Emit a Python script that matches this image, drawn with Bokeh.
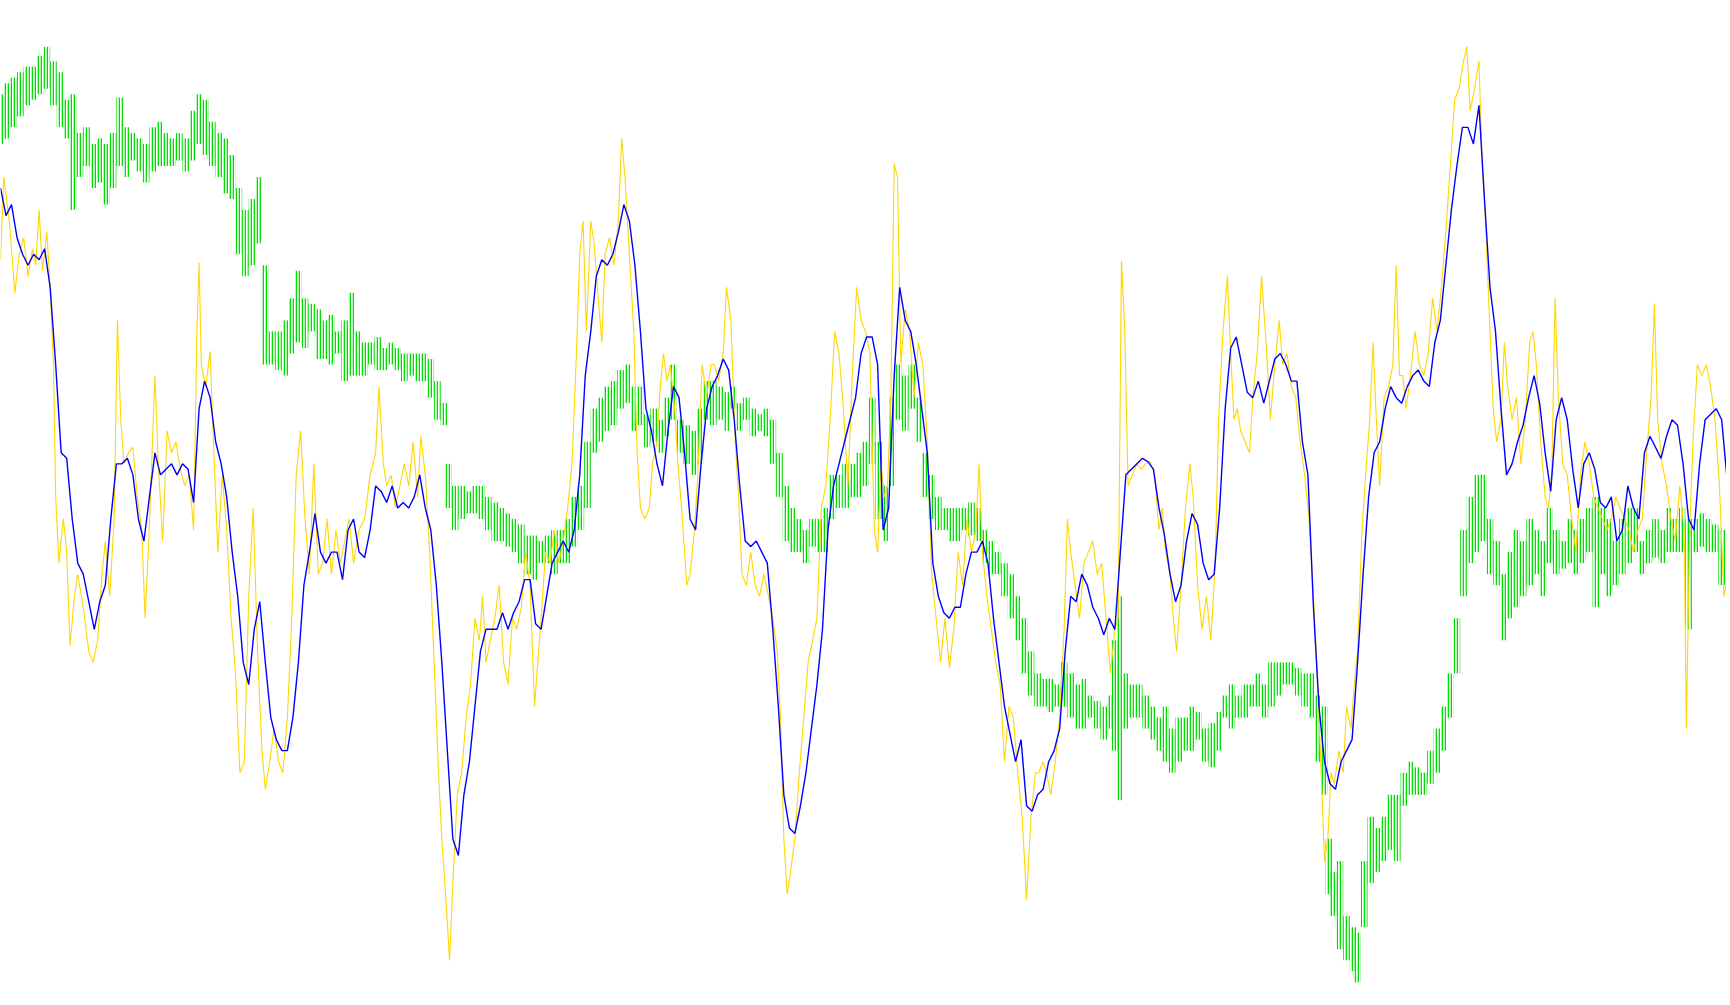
from bokeh.plotting import figure
from bokeh.models import Range1d
from bokeh.embed import file_html
from bokeh.resources import INLINE

# Values (arbitrary vertical unit, larger = lower on chart)
green_x = [0,6,12,18,24,30,36,42,48,54,60,66,72,78,84,90,96,102,108,114,120,126,132,138,144,150,156,162,168,174,180,186,192,198,204,210,216,222,228,234,240,246,252,258,264,270,276,282,288,294,300,306,312,318,324,330,336,342,348,354,360,366,372,378,384,390,396,402,406,412,418,424,430,436,442,448,454,460,466,472,478,484,490,496,502,508,514,520,526,532,538,544,550,556,562,568,574,580,586,592,598,604,610,616,622,628,634,640,646,652,658,664,670,676,682,688,694,700,706,712,718,724,730,736,742,748,754,760,766,772,778,784,790,796,802,808,814,820,826,832,838,844,850,856,862,868,874,880,886,892,898,904,910,916,922,928,934,940,946,952,958,964,970,976,982,988,994,1000,1006,1010,1014,1020,1026,1032,1038,1044,1050,1056,1062,1068,1074,1080,1086,1092,1098,1104,1110,1116,1122,1128,1134,1140,1146,1152,1158,1164,1170,1176,1182,1188,1194,1200,1204,1208,1214,1220,1226,1230,1236,1242,1248,1254,1260,1266,1272,1278,1284,1290,1296,1302,1308,1314,1320,1326,1332,1338,1344,1350,1356,1362,1368,1374,1380,1386,1392,1398,1404,1410,1416,1422,1428,1434,1440,1446,1452,1458,1464,1470,1476,1482,1488,1494,1500,1506,1512,1518,1524,1530,1536,1542,1548,1554,1560,1566]
green_top = [85,75,70,65,60,60,50,42,55,65,90,85,120,115,130,125,130,120,88,115,120,125,130,115,110,120,125,120,125,100,85,90,110,120,125,140,170,190,180,160,240,300,300,290,270,245,270,275,280,290,285,300,290,265,300,310,310,305,315,310,315,320,320,320,320,325,345,365,420,440,440,445,440,440,450,455,460,465,470,475,485,485,490,485,480,480,470,450,440,400,370,360,350,345,335,330,350,350,375,370,380,360,330,380,385,390,370,345,345,350,355,350,365,360,370,375,370,380,410,440,460,470,480,470,470,460,430,430,420,420,410,400,360,400,440,360,330,340,330,360,410,430,450,460,460,460,460,455,460,480,490,500,510,520,540,560,590,610,615,615,620,600,610,620,615,630,635,640,630,580,540,610,620,620,630,640,650,640,660,650,650,640,645,660,655,645,630,620,630,620,620,610,620,600,600,600,600,605,610,610,630,640,760,790,780,830,840,845,780,740,750,740,720,720,700,690,695,700,680,660,640,610,560,480,450,430,430,470,490,520,500,480,490,470,480,490,460,480,490,470,480,470,460,450,460,470,490,470,460,460,490,480,470,480,460,470,460,470,470,465,470,475,480,500]
green_bottom = [130,125,115,105,95,90,85,80,95,115,125,190,160,150,170,165,185,170,150,160,145,155,165,155,150,150,150,145,155,145,130,140,150,160,175,180,230,250,240,220,330,330,335,340,320,310,315,300,325,325,330,320,345,340,340,340,330,335,335,330,335,345,340,345,345,360,380,385,460,480,470,465,465,470,480,490,490,495,500,510,520,525,510,510,520,510,510,495,480,460,410,400,390,385,370,365,390,385,405,400,410,395,380,410,420,430,420,380,385,380,390,370,390,380,395,390,395,420,450,490,500,500,510,495,500,500,470,460,460,450,450,440,420,470,490,440,380,390,370,400,450,470,480,480,490,490,480,485,490,510,520,520,540,560,580,610,630,640,640,645,640,640,650,660,660,650,660,670,660,680,725,660,650,650,660,670,680,690,700,690,680,680,670,690,695,680,650,660,650,650,640,640,650,640,630,620,620,630,640,650,690,720,810,830,860,870,880,890,840,800,790,780,770,780,730,720,720,720,710,700,680,650,610,540,510,500,490,520,530,580,560,550,540,530,520,540,510,520,515,510,520,510,500,550,520,540,530,520,510,500,520,510,505,510,500,500,500,570,500,495,500,500,530,550]

yellow_x = [0,3,8,13,17,21,25,29,32,35,38,42,45,48,50,53,57,60,63,67,70,75,80,84,88,92,95,99,103,106,109,112,116,120,124,128,131,134,137,140,143,147,151,155,159,163,167,171,175,178,180,182,186,190,193,197,201,205,209,213,217,221,225,229,233,237,240,244,248,252,256,260,264,268,272,276,280,284,288,292,296,300,304,308,312,316,320,325,330,335,340,343,347,350,354,358,362,366,370,374,378,381,385,389,393,397,400,404,407,410,414,418,422,426,430,434,437,440,444,448,452,456,460,464,468,472,476,480,484,487,490,494,498,502,506,510,514,518,522,525,528,531,535,538,541,545,548,552,556,560,563,566,570,574,577,580,584,588,591,595,598,601,604,607,611,614,618,622,625,629,632,636,640,644,647,651,655,658,662,666,669,672,676,680,684,688,692,696,700,704,707,710,713,716,720,724,728,732,736,740,744,748,752,756,760,764,768,772,776,780,784,788,792,795,798,801,804,807,810,813,816,820,824,828,832,836,840,844,848,852,856,860,864,868,872,876,880,884,887,890,894,898,902,906,910,914,918,922,926,930,934,938,941,945,948,952,956,960,964,967,970,974,978,982,986,990,994,998,1002,1006,1010,1013,1016,1019,1022,1026,1030,1034,1038,1042,1046,1050,1053,1056,1060,1063,1066,1070,1074,1078,1081,1085,1089,1093,1097,1101,1104,1108,1112,1115,1118,1121,1124,1128,1132,1135,1139,1143,1147,1151,1155,1159,1162,1166,1170,1174,1178,1182,1186,1190,1194,1197,1200,1203,1206,1209,1213,1217,1220,1224,1227,1230,1234,1238,1241,1244,1247,1250,1254,1258,1262,1265,1268,1271,1274,1278,1282,1286,1290,1294,1298,1302,1306,1310,1314,1318,1322,1326,1329,1332,1336,1340,1343,1346,1350,1353,1356,1360,1363,1366,1370,1374,1378,1382,1386,1389,1392,1396,1400,1403,1406,1409,1412,1416,1420,1424,1428,1432,1436,1440,1444,1448,1452,1456,1460,1464,1468,1472,1476,1480,1484,1488,1492,1496,1499,1502,1506,1510,1514,1518,1522,1526,1528,1531,1534,1538,1542,1546,1550,1554,1558,1562,1566]
yellow_y = [235,160,200,265,230,215,250,225,240,190,245,210,260,330,450,510,470,500,585,540,520,550,590,600,580,520,490,540,470,290,380,420,410,405,450,480,560,500,420,340,420,490,390,410,400,425,440,430,480,300,238,330,350,318,400,500,430,480,560,610,700,690,540,460,590,680,715,690,660,690,700,650,560,430,390,470,520,420,520,510,470,520,480,510,490,470,510,480,470,430,410,350,420,440,430,460,440,420,440,400,450,395,430,500,600,700,760,820,870,800,720,700,650,620,560,580,540,600,580,560,530,600,620,560,570,550,500,530,640,600,560,500,510,480,510,490,460,420,320,230,200,300,200,220,260,310,230,215,240,200,125,160,230,300,410,460,470,460,420,400,350,320,345,330,370,420,470,530,520,480,430,330,360,330,330,345,320,260,290,400,450,520,530,500,530,540,520,540,560,590,650,760,810,790,760,700,650,600,580,560,460,440,380,300,320,370,440,340,260,290,300,320,480,500,420,450,440,360,148,160,330,280,300,360,310,330,400,520,560,600,560,605,570,500,530,470,500,480,420,500,540,570,600,620,690,640,650,700,740,815,740,700,700,690,700,720,690,650,570,470,500,530,560,510,500,490,520,510,560,610,570,560,236,300,440,430,420,425,420,418,430,480,460,500,520,560,590,530,460,420,450,530,570,540,580,510,380,300,250,320,380,370,390,400,410,360,320,250,310,380,330,290,330,320,350,360,400,430,470,540,620,700,780,760,700,710,680,700,640,660,620,590,480,420,380,310,380,440,360,350,330,240,340,340,370,340,300,330,340,320,270,300,260,210,150,90,80,55,42,100,80,55,150,200,300,370,400,380,310,350,380,360,420,380,310,300,330,400,450,460,430,270,360,420,430,470,500,430,400,420,450,460,470,480,470,450,460,470,480,500,480,470,410,360,275,380,420,440,470,490,440,480,660,480,400,330,340,330,350,380,440,540,520]

blue_x = list(range(0, 1566, 5))
blue_y = [170,195,185,215,230,240,230,235,225,260,330,410,415,470,510,520,545,570,545,530,470,420,420,415,430,470,490,450,410,430,425,420,430,420,425,455,370,345,360,400,420,450,500,540,600,620,570,545,600,650,670,680,680,650,600,530,500,465,500,510,500,500,525,480,470,500,505,480,440,445,455,440,460,455,460,450,430,460,480,530,600,680,760,775,720,690,640,590,570,570,570,555,570,555,545,525,525,565,570,540,510,500,490,500,480,430,340,300,250,235,240,230,210,185,200,240,300,370,390,420,440,390,350,360,410,470,480,420,370,350,340,325,335,380,440,490,495,490,500,510,570,640,720,750,755,730,700,660,620,570,480,440,420,400,380,360,320,305,305,330,480,460,340,260,290,300,330,370,410,510,540,555,560,550,550,520,500,500,490,510,560,600,640,665,690,670,730,735,720,715,690,680,660,590,540,545,520,530,550,560,575,560,570,500,430,425,420,415,418,425,460,485,520,545,530,490,465,475,510,525,520,460,370,315,305,330,355,360,345,365,345,325,320,330,345,345,400,430,550,640,690,710,715,690,680,670,600,520,450,410,400,370,350,360,365,350,340,335,345,350,310,290,240,190,150,115,115,130,95,180,260,300,370,430,420,400,385,360,340,365,410,445,380,360,380,425,460,420,410,425,455,460,450,490,480,440,460,470,410,395,405,415,395,380,385,420,470,480,420,380,375,370,380,435]

W, H = 1726, 1000
KX = 1568 / 1730
KY = 911 / 1005

p = figure(width=W, height=H, output_backend="svg", toolbar_location=None,
           x_range=Range1d(0, W * KX),
           y_range=Range1d(H * KY, 0),
           min_border=0)
p.axis.visible = False
p.grid.visible = False
p.outline_line_color = None
p.background_fill_color = "white"
p.border_fill_color = "white"

p.vbar(x=green_x, top=green_top, bottom=green_bottom, width=6,
       fill_color=None, line_color=None,
       hatch_pattern="vertical_line", hatch_color="#00dd00",
       hatch_scale=3, hatch_weight=1.6)
p.line(yellow_x, yellow_y, line_color="#ffd700", line_width=1.1)
p.line(blue_x, blue_y, line_color="#0000ff", line_width=1.4)

open("out.html", "w").write(file_html(p, INLINE))
